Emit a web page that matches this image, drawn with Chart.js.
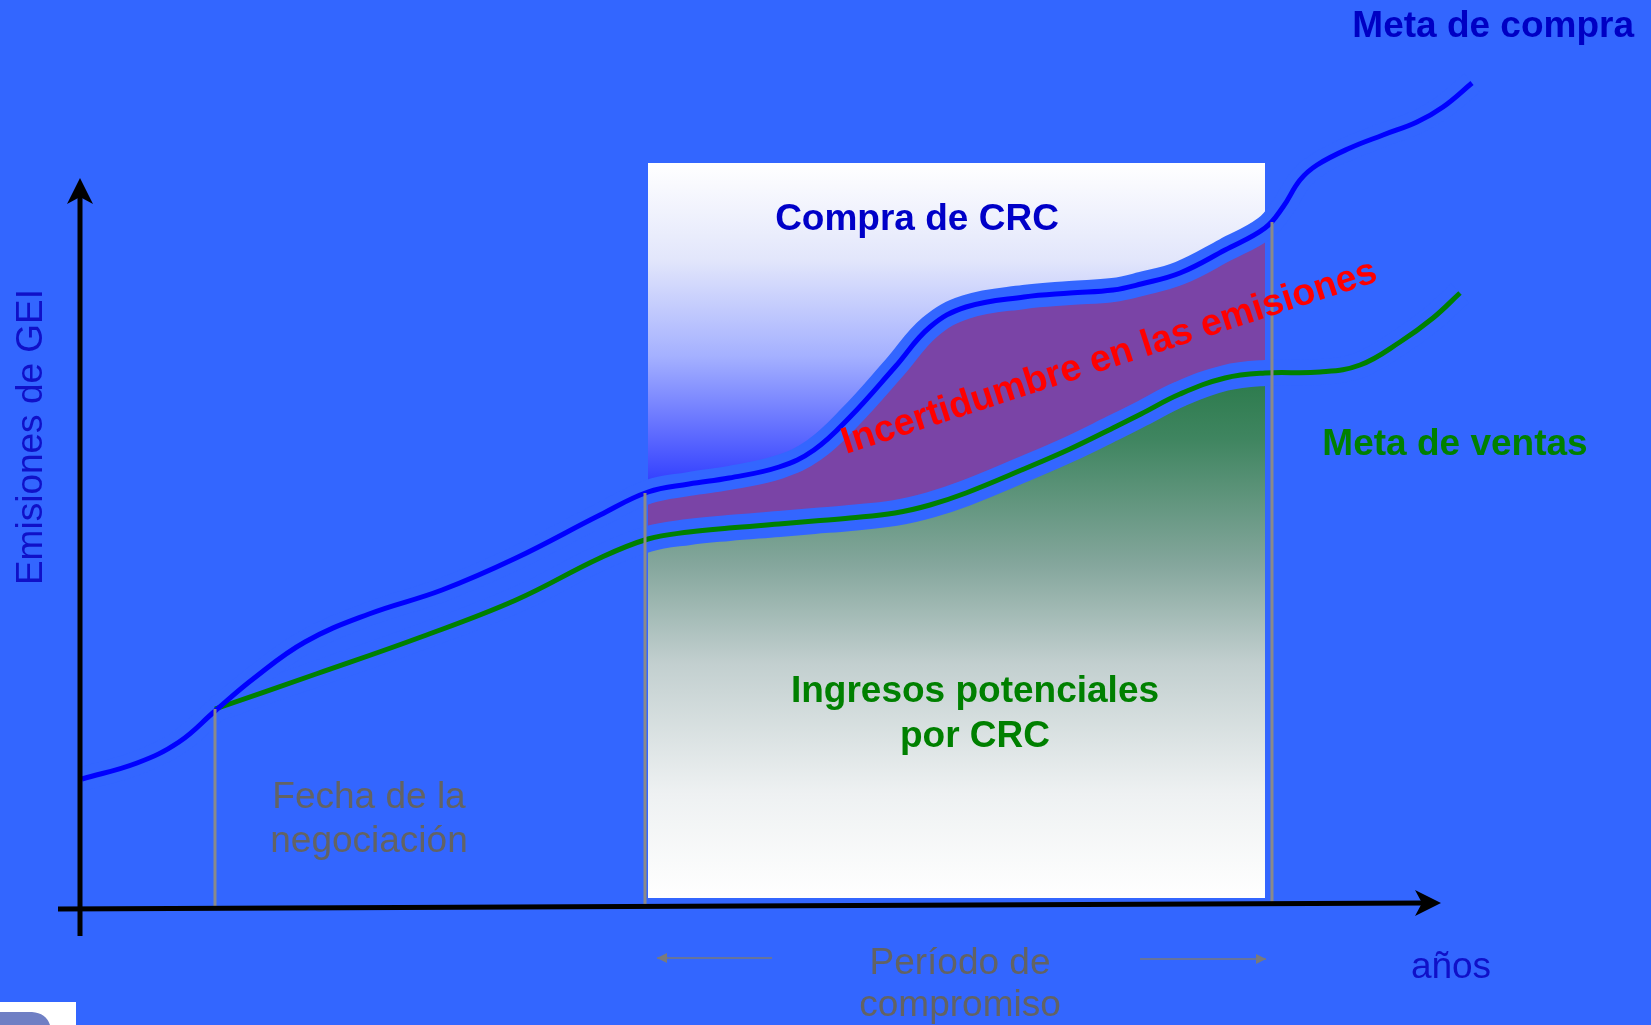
<!DOCTYPE html>
<html>
<head>
<meta charset="utf-8">
<script src="https://cdn.jsdelivr.net/npm/chart.js@4/dist/chart.umd.min.js"></script>
<style>
  html, body { margin: 0; padding: 0; background: #3366ff; overflow: hidden; }
  canvas { display: block; }
</style>
</head>
<body>
<canvas id="grafico" width="1651" height="1025"></canvas>
<script>
// años (eje x) y emisiones de GEI (eje y), unidades arbitrarias
const metaCompraX = [0.2, 5.7, 9.9, 13.5, 17.3, 22.5, 28.9, 36.2, 43.6, 52.0,
  56.8, 60.9, 64.9, 69.9, 73.4, 77.0, 81.5, 85.0, 88.6, 94.4, 99.0, 103.3, 106.1, 110.0, 114.5, 118.5,
  120.3, 122.0, 123.7, 127.0, 130.3, 133.7, 136.3, 139.2];
const metaCompraY = [12.7, 14.3, 16.4, 19.5, 22.7, 26.4, 29.2, 31.6, 34.8, 39.1,
  41.4, 42.2, 42.8, 43.9, 45.6, 48.9, 53.9, 57.9, 59.9, 60.9, 61.3, 61.6, 62.2, 63.3, 65.6, 67.8,
  69.9, 72.6, 74.1, 75.8, 77.1, 78.4, 79.9, 82.3];

const metaVentasX = [13.5, 23.6, 34.1, 43.6, 52.0,
  56.8, 60.9, 64.9, 69.9, 73.4, 77.0, 81.5, 85.0, 88.6, 94.4, 99.0, 103.3, 106.1, 110.0, 114.5, 118.5,
  124.0, 128.0, 132.0, 135.3, 138.0];
const metaVentasY = [19.7, 23.2, 26.9, 30.6, 34.8,
  36.7, 37.4, 37.8, 38.2, 38.5, 38.8, 39.3, 40.1, 41.3, 43.7, 45.7, 47.8, 49.2, 51.2, 52.8, 53.3,
  53.4, 54.1, 56.4, 58.8, 61.3];

// periodo de compromiso
const periodo = [56.8, 118.5];
const techoCaja = 74.3;
const pisoCaja = 0.8;

// lineas verticales grises (fecha de negociación, inicio y fin del periodo)
const guiaX = [13.5, 56.5, 119.2];
const guiaTope = [19.7, 41.3, 68.4];

const pts = (xs, ys) => xs.map((x, i) => ({ x: x, y: ys[i] }));
const enPeriodo = p => p.x >= periodo[0] && p.x <= periodo[1];

const compra = pts(metaCompraX, metaCompraY);
const ventas = pts(metaVentasX, metaVentasY);
const compraCaja = compra.filter(enPeriodo);
const ventasCaja = ventas.filter(enPeriodo);
const techo = compraCaja.map(p => ({ x: p.x, y: techoCaja }));
const piso = compraCaja.map(p => ({ x: p.x, y: pisoCaja }));

const FONT = "'Liberation Sans', Arial, sans-serif";

function degradado(chart, yTop, yBot, stops) {
  const area = chart.chartArea;
  if (!area) return null;
  const ys = chart.scales.y;
  const g = chart.ctx.createLinearGradient(0, ys.getPixelForValue(yTop), 0, ys.getPixelForValue(yBot));
  stops.forEach(s => g.addColorStop(s[0], s[1]));
  return g;
}

const base = {
  pointRadius: 0,
  pointHoverRadius: 0,
  tension: 0.4,
  borderCapStyle: "butt",
};

const extras = {
  id: "extras",
  afterDatasetsDraw(chart) {
    const c = chart.ctx;
    const sx = chart.scales.x, sy = chart.scales.y;
    const X = v => sx.getPixelForValue(v);
    const Y = v => sy.getPixelForValue(v);
    c.save();

    // guias grises
    c.strokeStyle = "#8a8a8a";
    c.lineWidth = 3;
    guiaX.forEach((gx, i) => {
      c.beginPath();
      c.moveTo(X(gx), Y(guiaTope[i]));
      c.lineTo(X(gx), Y(0));
      c.stroke();
    });

    // ejes
    c.strokeStyle = "#000";
    c.fillStyle = "#000";
    c.lineWidth = 5;
    c.beginPath();
    c.moveTo(X(0), Y(-3));
    c.lineTo(X(0), Y(71));
    c.stroke();
    let tx = X(0), ty = Y(72.8);
    c.beginPath();
    c.moveTo(tx, ty);
    c.lineTo(tx + 13, ty + 26);
    c.lineTo(tx, ty + 19);
    c.lineTo(tx - 13, ty + 26);
    c.closePath();
    c.fill();

    c.beginPath();
    c.moveTo(X(-2.2), Y(-0.3));
    c.lineTo(X(134.5), Y(0.3));
    c.stroke();
    tx = X(136.1); ty = Y(0.3);
    c.beginPath();
    c.moveTo(tx, ty);
    c.lineTo(tx - 26, ty - 13);
    c.lineTo(tx - 19, ty);
    c.lineTo(tx - 26, ty + 13);
    c.closePath();
    c.fill();

    // flechas del periodo
    c.strokeStyle = "#7a7a7a";
    c.fillStyle = "#7a7a7a";
    c.lineWidth = 1.5;
    const flecha = (x1, x2, y) => {
      c.beginPath(); c.moveTo(x1, y); c.lineTo(x2, y); c.stroke();
      const d = Math.sign(x2 - x1);
      c.beginPath();
      c.moveTo(x2, y); c.lineTo(x2 - d * 10, y - 5); c.lineTo(x2 - d * 10, y + 5);
      c.closePath(); c.fill();
    };
    flecha(772, 657, 958);
    flecha(1140, 1266, 959);

    // textos
    const t = (s, x, y, font, color, align) => {
      c.font = font; c.fillStyle = color; c.textAlign = align || "center"; c.textBaseline = "alphabetic";
      c.fillText(s, x, y);
    };
    t("Meta de compra", 1634, 37, "bold 37px " + FONT, "#0000c4", "right");
    t("Meta de ventas", 1455, 455, "bold 37px " + FONT, "#008000");
    t("Compra de CRC", 917, 230, "bold 37px " + FONT, "#0000c8");
    t("Ingresos potenciales", 975, 702, "bold 37px " + FONT, "#008000");
    t("por CRC", 975, 747, "bold 37px " + FONT, "#008000");
    t("Fecha de la", 369, 808, "37px " + FONT, "#636363");
    t("negociación", 369, 852, "37px " + FONT, "#636363");
    t("Período de", 960, 974, "37px " + FONT, "#636363");
    t("compromiso", 960, 1016, "37px " + FONT, "#636363");
    t("años", 1451, 978, "37px " + FONT, "#1010c8");

    c.save();
    c.translate(42, 437);
    c.rotate(-Math.PI / 2);
    t("Emisiones de GEI", 0, 0, "37px " + FONT, "#1010c8");
    c.restore();

    c.save();
    c.translate(846, 454);
    c.rotate(-18 * Math.PI / 180);
    t("Incertidumbre en las emisiones", 0, 0, "bold 37.5px " + FONT, "#ff0000", "left");
    c.restore();

    // recorte del logo en la esquina
    c.fillStyle = "#ffffff";
    c.fillRect(0, 1002, 76, 23);
    c.fillStyle = "#6f7fc4";
    c.beginPath();
    c.moveTo(0, 1012);
    c.lineTo(32, 1012);
    c.quadraticCurveTo(46, 1013, 50, 1025);
    c.lineTo(0, 1025);
    c.closePath();
    c.fill();

    c.restore();
  }
};

new Chart(document.getElementById("grafico"), {
  type: "line",
  data: {
    datasets: [
      {
        ...base, label: "techo", data: techo, fill: "+1", order: 5,
        borderWidth: 0, borderColor: "rgba(0,0,0,0)",
        backgroundColor: ctx => degradado(ctx.chart, techoCaja, 42, [[0, "#ffffff"], [0.3, "#e2e6fb"], [0.6, "#a4b0ff"], [1, "#2f3cff"]])
      },
      {
        ...base, label: "compraCaja", data: compraCaja, fill: "+1", order: 5,
        borderWidth: 0, borderColor: "rgba(0,0,0,0)", backgroundColor: "#7a44a6"
      },
      {
        ...base, label: "ventasCaja", data: ventasCaja, fill: "+1", order: 5,
        borderWidth: 0, borderColor: "rgba(0,0,0,0)",
        backgroundColor: ctx => degradado(ctx.chart, 53, pisoCaja, [[0, "#2b7a4b"], [0.12, "#3f8560"], [0.36, "#84a69c"], [0.55, "#c2cfcf"], [0.8, "#eef1f2"], [1, "#ffffff"]])
      },
      {
        ...base, label: "piso", data: piso, fill: false, order: 5,
        borderWidth: 0, borderColor: "rgba(0,0,0,0)"
      },
      { ...base, label: "haloCompra", data: compra, fill: false, order: 1, borderWidth: 24, borderColor: "#3366ff" },
      { ...base, label: "haloVentas", data: ventas, fill: false, order: 1, borderWidth: 26, borderColor: "#3366ff" },
      { ...base, label: "Meta de compra", data: compra, fill: false, order: 0, borderWidth: 5, borderColor: "#0000ff" },
      { ...base, label: "Meta de ventas", data: ventas, fill: false, order: 0, borderWidth: 5, borderColor: "#008000" }
    ]
  },
  options: {
    responsive: false,
    devicePixelRatio: 1,
    animation: false,
    layout: { padding: 0 },
    scales: {
      x: { type: "linear", display: false, min: -8, max: 157.1 },
      y: { type: "linear", display: false, min: -11.9, max: 90.6 }
    },
    plugins: {
      legend: { display: false },
      tooltip: { enabled: false },
      filler: { drawTime: "beforeDatasetsDraw" }
    }
  },
  plugins: [extras]
});
</script>
</body>
</html>
